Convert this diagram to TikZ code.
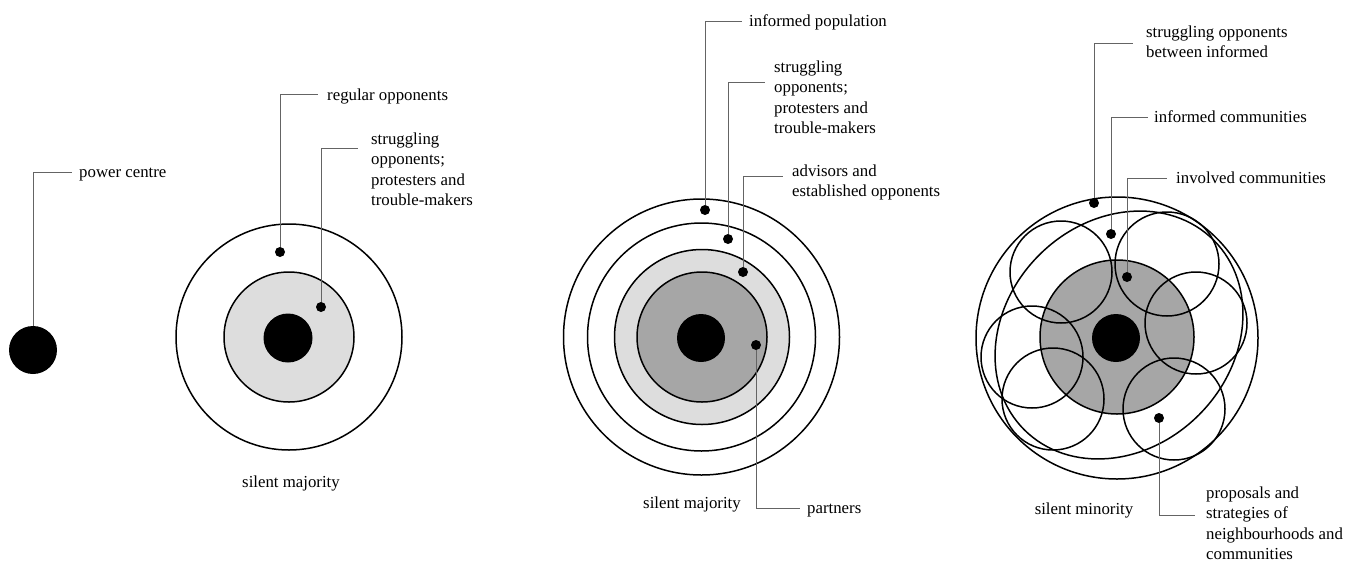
\documentclass[tikz,border=0pt]{standalone}
\usepackage{fontspec}
\setmainfont{Liberation Serif}
\newcommand\mlines[1]{\begin{tabular}[t]{@{}l@{}}#1\end{tabular}}
\definecolor{lightg}{RGB}{221,221,221}
\definecolor{darkg}{RGB}{166,166,166}
\definecolor{leadc}{RGB}{100,100,100}
\begin{document}
\begin{tikzpicture}[x=1pt,y=1pt,
  ring/.style={circle, draw=black, line width=1.5pt, inner sep=0pt},
  core/.style={circle, fill=black, inner sep=0pt, minimum size=48pt},
  mdot/.style={circle, fill=black, inner sep=0pt, minimum size=10pt},
  lbl/.style={inner sep=0pt, anchor=base west, font=\fontsize{16.8}{20.5}\selectfont},
  foot/.style={inner sep=0pt, anchor=base, font=\fontsize{16.8}{20.5}\selectfont},
  leader/.style={draw=leadc, line width=0.9pt}
]
\fill[white] (0,0) rectangle (1355,-563);
\useasboundingbox (0,0) rectangle (1355,-563);

% ---------- panel 1 ----------
\node[core] (pc) at (33,-350) {};
\node[lbl] (t0) at (79,-177) {power centre};
\coordinate (e0) at (72,-172);
\draw[leader] (pc) |- (e0);

% ---------- panel 2 ----------
\node[ring, minimum size=226pt] (p2a) at (289,-337) {};
\node[ring, fill=lightg, minimum size=130pt] (p2b) at (289,-337) {};
\node[core, minimum size=49pt] (p2c) at (288,-338) {};
\node[mdot] (d1) at (280,-252) {};
\node[mdot] (d2) at (321,-307) {};
\node[lbl] (t1) at (327,-100) {regular opponents};
\node[lbl] (t2) at (371,-144) {\mlines{struggling\\opponents;\\protesters and\\trouble-makers}};
\coordinate (e1) at (318,-94);
\coordinate (e2) at (358,-148);
\draw[leader] (d1) |- (e1);
\draw[leader] (d2) |- (e2);
\node[foot] (s2) at (291,-487) {silent majority};

% ---------- panel 3 ----------
\node[ring, minimum size=276pt] (p3a) at (701.5,-337) {};
\node[ring, minimum size=228pt] (p3b) at (701.5,-337) {};
\node[ring, fill=lightg, minimum size=175pt] (p3c) at (702,-337) {};
\node[ring, fill=darkg, minimum size=130pt] (p3d) at (702,-337) {};
\node[core] (p3e) at (701,-338) {};
\node[mdot] (d3) at (705,-210) {};
\node[mdot] (d4) at (728,-239) {};
\node[mdot] (d5) at (743,-272) {};
\node[mdot] (d6) at (756,-345) {};
\node[lbl] (t3) at (749,-26) {informed population};
\node[lbl] (t4) at (774,-72) {\mlines{struggling\\opponents;\\protesters and\\trouble-makers}};
\node[lbl] (t5) at (792,-176) {\mlines{advisors and\\established opponents}};
\node[lbl] (t6) at (807,-513) {partners};
\coordinate (e3) at (742,-21);
\coordinate (e4) at (765,-82);
\coordinate (e5) at (783,-176);
\coordinate (e6) at (800,-508);
\draw[leader] (d3) |- (e3);
\draw[leader] (d4) |- (e4);
\draw[leader] (d5) |- (e5);
\draw[leader] (d6) |- (e6);
\node[foot] (s3) at (692,-508) {silent majority};

% ---------- panel 4 ----------
\node[ring, minimum size=282pt] (p4a) at (1117,-338) {};
\node[ring, fill=darkg, minimum size=154pt] (p4b) at (1117,-337) {};
\node[ring, minimum size=102pt] (c1) at (1061,-272) {};
\node[ring, minimum size=104pt] (c2) at (1167,-264) {};
\node[ring, minimum size=102pt] (c3) at (1196,-323) {};
\node[ring, minimum size=102pt] (c4) at (1174,-409) {};
\node[ring, minimum size=102pt] (c5) at (1053,-399) {};
\node[ring, minimum size=102pt] (c6) at (1032,-357) {};
\draw[line width=1.5pt, rotate around={45:(1119,-335)}] (1119,-335) ellipse [x radius=134, y radius=113];
\node[core] (p4c) at (1116,-338) {};
\node[mdot] (d7) at (1094,-203) {};
\node[mdot] (d8) at (1111,-234) {};
\node[mdot] (d9) at (1127,-277) {};
\node[mdot] (d10) at (1159,-418) {};
\node[lbl] (t7) at (1146,-37) {\mlines{struggling opponents\\between informed}};
\node[lbl] (t8) at (1154,-122) {informed communities};
\node[lbl] (t9) at (1176,-183) {involved communities};
\node[lbl] (t10) at (1206,-498) {\mlines{proposals and\\strategies of\\neighbourhoods and\\communities}};
\coordinate (e7) at (1133,-43);
\coordinate (e8) at (1148,-117);
\coordinate (e9) at (1167,-178);
\coordinate (e10) at (1195,-515);
\draw[leader] (d7) |- (e7);
\draw[leader] (d8) |- (e8);
\draw[leader] (d9) |- (e9);
\draw[leader] (d10) |- (e10);
\node[foot] (s4) at (1084,-514) {silent minority};
\end{tikzpicture}
\end{document}
